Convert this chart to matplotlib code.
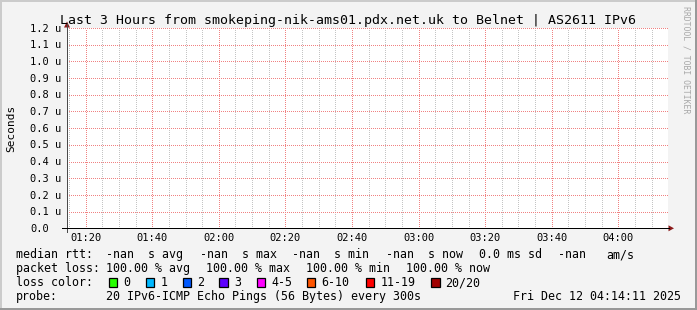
import numpy as np
import matplotlib
matplotlib.use("Agg")
import matplotlib.pyplot as plt
from matplotlib.transforms import Affine2D, blended_transform_factory
from matplotlib.lines import Line2D
from matplotlib.patches import Rectangle, Polygon

# ---------------- data ----------------
title = "Last 3 Hours from smokeping-nik-ams01.pdx.net.uk to Belnet | AS2611 IPv6"
x_start_min = 74.4      # 01:14:24 in minutes after midnight
x_end_min = 254.9       # 04:14:54
sample_minutes = list(range(75, 255, 5))
median_rtt = [np.nan] * len(sample_minutes)   # all pings lost -> no rtt
loss_count = [20] * len(sample_minutes)
y_ticks = [0.0, 0.1, 0.2, 0.3, 0.4, 0.5, 0.6, 0.7, 0.8, 0.9, 1.0, 1.1, 1.2]
y_tick_labels = ["0.0", "0.1 u", "0.2 u", "0.3 u", "0.4 u", "0.5 u", "0.6 u",
                 "0.7 u", "0.8 u", "0.9 u", "1.0 u", "1.1 u", "1.2 u"]
x_major_minutes = [80, 100, 120, 140, 160, 180, 200, 220, 240]
x_major_labels = ["01:20", "01:40", "02:00", "02:20", "02:40", "03:00", "03:20", "03:40", "04:00"]
loss_labels = ["0", "1", "2", "3", "4-5", "6-10", "11-19", "20/20"]
loss_colors = ["#26ff00", "#00b8ff", "#0059ff", "#5e00ff", "#ff00ff", "#ff5500", "#ff0000", "#a10000"]
rtt_line = [("median rtt:", 16), ("-nan  s avg", 106), ("-nan  s max", 200.5),
            ("-nan  s min", 292), ("-nan  s now", 385.5), ("0.0 ms sd", 479), ("-nan", 558), ("am/s", 606)]
loss_line = [("packet loss:", 16), ("100.00 % avg", 106.5), ("100.00 % max", 206.5),
             ("100.00 % min", 306), ("100.00 % now", 406.5)]
probe_text = "20 IPv6-ICMP Echo Pings (56 Bytes) every 300s"
date_text = "Fri Dec 12 04:14:11 2025"

W, H = 697, 310
fig = plt.figure(figsize=(W / 100, H / 100), dpi=100, facecolor="#f3f3f3")
T = Affine2D().scale(1 / W, -1 / H).translate(0, 1) + fig.transFigure
MONO = "DejaVu Sans Mono"

# border shading
fig.add_artist(Rectangle((0, 0), W, 2, transform=T, color="#cbcbcb", lw=0))
fig.add_artist(Rectangle((0, 0), 2, H, transform=T, color="#cbcbcb", lw=0))
fig.add_artist(Rectangle((0, H - 2), W, 2, transform=T, color="#999999", lw=0))
fig.add_artist(Rectangle((W - 2, 0), 2, H, transform=T, color="#999999", lw=0))

L, R, TOP, BOT = 67, 668, 28, 228.3
ax = fig.add_axes([L / W, 1 - BOT / H, (R - L) / W, (BOT - TOP) / H])
ax.set_facecolor("white")
ax.set_xlim(x_start_min, x_end_min)
ax.set_ylim(0, 1.2)
for s in ax.spines.values():
    s.set_visible(False)
ax.set_xticks([]); ax.set_yticks([])

lw1 = 0.72
dot = (0, (1, 2))
# minor vertical grid every 5 min
for m in range(75, 255, 5):
    if m not in x_major_minutes:
        ax.axvline(m, color="#c4c4c4", lw=lw1, ls=dot, zorder=1, antialiased=False)
for m in x_major_minutes:
    ax.axvline(m, color="#f08282", lw=lw1, ls=dot, zorder=2, antialiased=False)
for v in y_ticks[1:]:
    ax.axhline(v, color="#f08282", lw=lw1, ls=dot, zorder=2, antialiased=False)

# data (nothing visible: no rtt measured)
ax.plot(sample_minutes, median_rtt, color="#26ff00", lw=1)

# axes lines & arrows
fig.add_artist(Line2D([L, L], [TOP - 4, BOT + 4], transform=T, color="#4a4a4a", lw=lw1))
fig.add_artist(Line2D([L - 5, R + 1], [BOT, BOT], transform=T, color="black", lw=lw1))
fig.add_artist(Polygon([[L - 3, TOP - 0.5], [L + 3, TOP - 0.5], [L, TOP - 6.5]], closed=True,
                       transform=T, color="#8b1a1a", lw=0))
fig.add_artist(Polygon([[R + 0.5, BOT - 3], [R + 0.5, BOT + 3], [R + 6, BOT]], closed=True,
                       transform=T, color="#8b1a1a", lw=0))

# y tick labels
for v, lab in zip(y_ticks, y_tick_labels):
    yp = BOT - v / 1.2 * (BOT - TOP)
    fig.text(30, yp + 3.6, lab, transform=T, fontfamily=MONO, fontsize=7.5,
             ha="left", va="baseline", color="black")
# x tick labels
bt = blended_transform_factory(ax.transData, T)
for m, lab in zip(x_major_minutes, x_major_labels):
    ax.text(m, 241.2, lab, transform=bt, fontfamily=MONO, fontsize=7.5,
            ha="center", va="baseline", color="black", clip_on=False)

# title and labels
fig.text(347.5, 24, title, transform=T, fontfamily=MONO, fontsize=9.5, ha="center", va="baseline")
fig.text(11, 128, "Seconds", transform=T, fontfamily=MONO, fontsize=8, rotation=90,
         ha="center", va="center")
fig.text(686, 60, "RRDTOOL / TOBI OETIKER", transform=T, fontfamily=MONO, fontsize=5.9,
         rotation=270, ha="center", va="center", color="#a8a8a8")

# legend
LF = 8.4
for txt, x in rtt_line:
    fig.text(x, 258, txt, transform=T, fontfamily=MONO, fontsize=LF, ha="left", va="baseline")
for txt, x in loss_line:
    fig.text(x, 272, txt, transform=T, fontfamily=MONO, fontsize=LF, ha="left", va="baseline")
fig.text(16, 286, "loss color:", transform=T, fontfamily=MONO, fontsize=LF, ha="left", va="baseline")
box_x = [108.7, 145.7, 182.7, 219.3, 256.7, 306.7, 365.7, 431]
for bx, lab, col in zip(box_x, loss_labels, loss_colors):
    fig.add_artist(Rectangle((bx, 278.3), 8.5, 8.5, transform=T, facecolor=col,
                             edgecolor="black", lw=0.9))
    fig.text(bx + 14.5, 286, lab, transform=T, fontfamily=MONO, fontsize=LF, ha="left", va="baseline")
fig.text(16, 300, "probe:", transform=T, fontfamily=MONO, fontsize=LF, ha="left", va="baseline")
fig.text(106.5, 300, probe_text, transform=T, fontfamily=MONO, fontsize=LF, ha="left", va="baseline")
fig.text(681, 300, date_text, transform=T, fontfamily=MONO, fontsize=LF, ha="right", va="baseline")

fig.savefig("out.png", dpi=100, facecolor=fig.get_facecolor())
